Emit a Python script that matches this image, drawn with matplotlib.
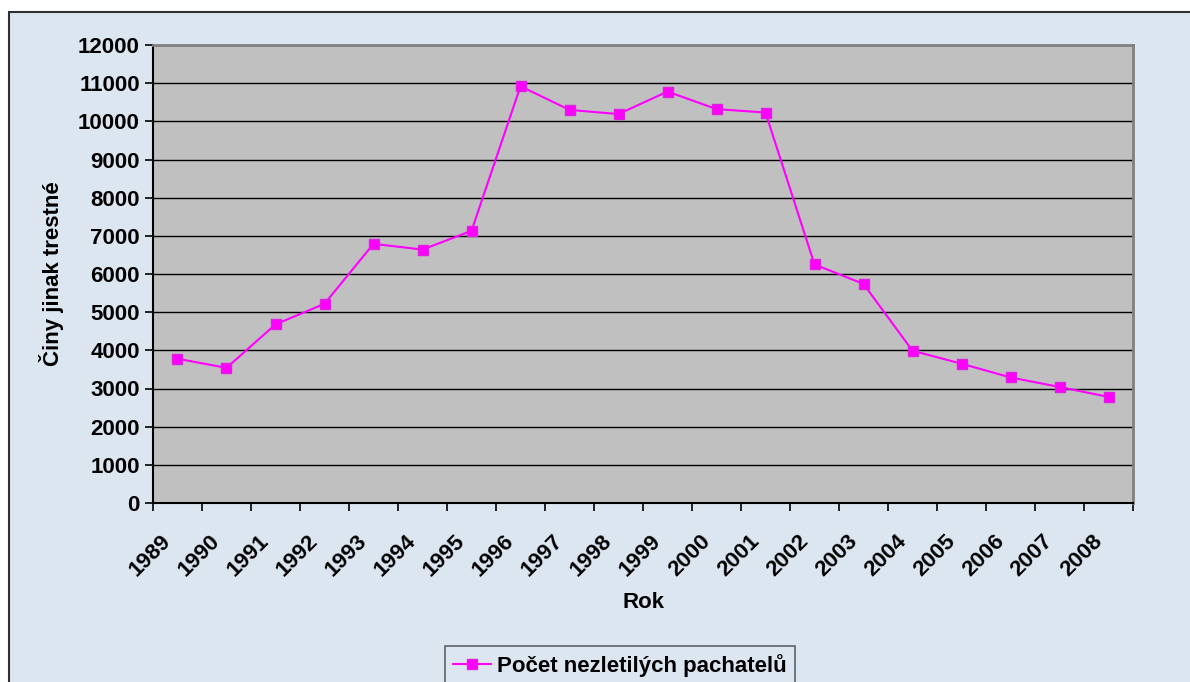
import matplotlib.pyplot as plt
from matplotlib.patches import Rectangle
from matplotlib.ticker import FixedLocator, NullFormatter
from matplotlib.transforms import ScaledTranslation
import numpy as np

plt.rcParams['font.family'] = ['Liberation Sans', 'DejaVu Sans']
plt.rcParams['font.weight'] = 'bold'

# data
years = [str(y) for y in range(1989, 2009)]
pachatele = [3780, 3540, 4680, 5220, 6790, 6640, 7130, 10920, 10300, 10190,
             10780, 10320, 10230, 6250, 5740, 3990, 3650, 3290, 3040, 2780]
yticks = list(range(0, 12001, 1000))

bg = '#DCE6F1'
fs = 16
fig = plt.figure(figsize=(11.9, 6.82), dpi=100)
fig.patch.set_facecolor('white')
# chart area frame
fig.patches.append(Rectangle((9 / 1190, -0.1), 1.1, (682 - 12) / 682 + 0.1,
                             transform=fig.transFigure, facecolor=bg,
                             edgecolor='#303030', linewidth=1.5, zorder=-5))

ax = fig.add_axes([153 / 1190, (682 - 503) / 682, 980 / 1190, 458 / 682])
ax.set_facecolor('#C0C0C0')

x = np.arange(len(years))
ax.plot(x, pachatele, color='#FF00FF', lw=1.5, marker='s', markersize=7,
        markerfacecolor='#FF00FF', markeredgecolor='#E020E0', zorder=3,
        label='Počet nezletilých pachatelů')

ax.set_xlim(-0.5, len(years) - 0.5)
ax.set_ylim(0, 12000)
ax.set_yticks(yticks)
ax.set_yticklabels([str(v) for v in yticks], fontsize=fs, fontweight='bold')
ax.yaxis.grid(True, color='black', lw=1)
ax.set_axisbelow(True)

# ticks at category boundaries, labels at centers
ax.xaxis.set_major_locator(FixedLocator(np.arange(-0.5, len(years), 1)))
ax.xaxis.set_major_formatter(NullFormatter())
ax.xaxis.set_minor_locator(FixedLocator(x))
ax.set_xticklabels(years, minor=True, rotation=45, ha='right',
                   rotation_mode='anchor', fontsize=fs, fontweight='bold')
ax.tick_params(axis='x', which='minor', length=0, pad=20)
ax.tick_params(axis='both', which='major', length=6, width=1.2, color='black')
shift = ScaledTranslation(-0.17, 0, fig.dpi_scale_trans)
for lab in ax.get_xticklabels(minor=True):
    lab.set_transform(lab.get_transform() + shift)

for s in ['left', 'bottom']:
    ax.spines[s].set_color('black')
    ax.spines[s].set_linewidth(1.5)
for s in ['top', 'right']:
    ax.spines[s].set_color('#808080')
    ax.spines[s].set_linewidth(2)

ax.set_xlabel('Rok', fontsize=fs, fontweight='bold', labelpad=8)
ax.set_ylabel('Činy jinak trestné', fontsize=fs, fontweight='bold', labelpad=10)

leg = fig.legend(loc='upper center', bbox_to_anchor=(620 / 1190, (682 - 646) / 682),
                 fontsize=fs, frameon=True, fancybox=False, handlelength=1.7,
                 handletextpad=0.3, borderpad=0.35, borderaxespad=0)
leg.get_frame().set_edgecolor('#404040')
leg.get_frame().set_facecolor(bg)
leg.get_frame().set_linewidth(1.2)
for t in leg.get_texts():
    t.set_fontweight('bold')

fig.savefig('out.png', dpi=100, facecolor=fig.get_facecolor())
